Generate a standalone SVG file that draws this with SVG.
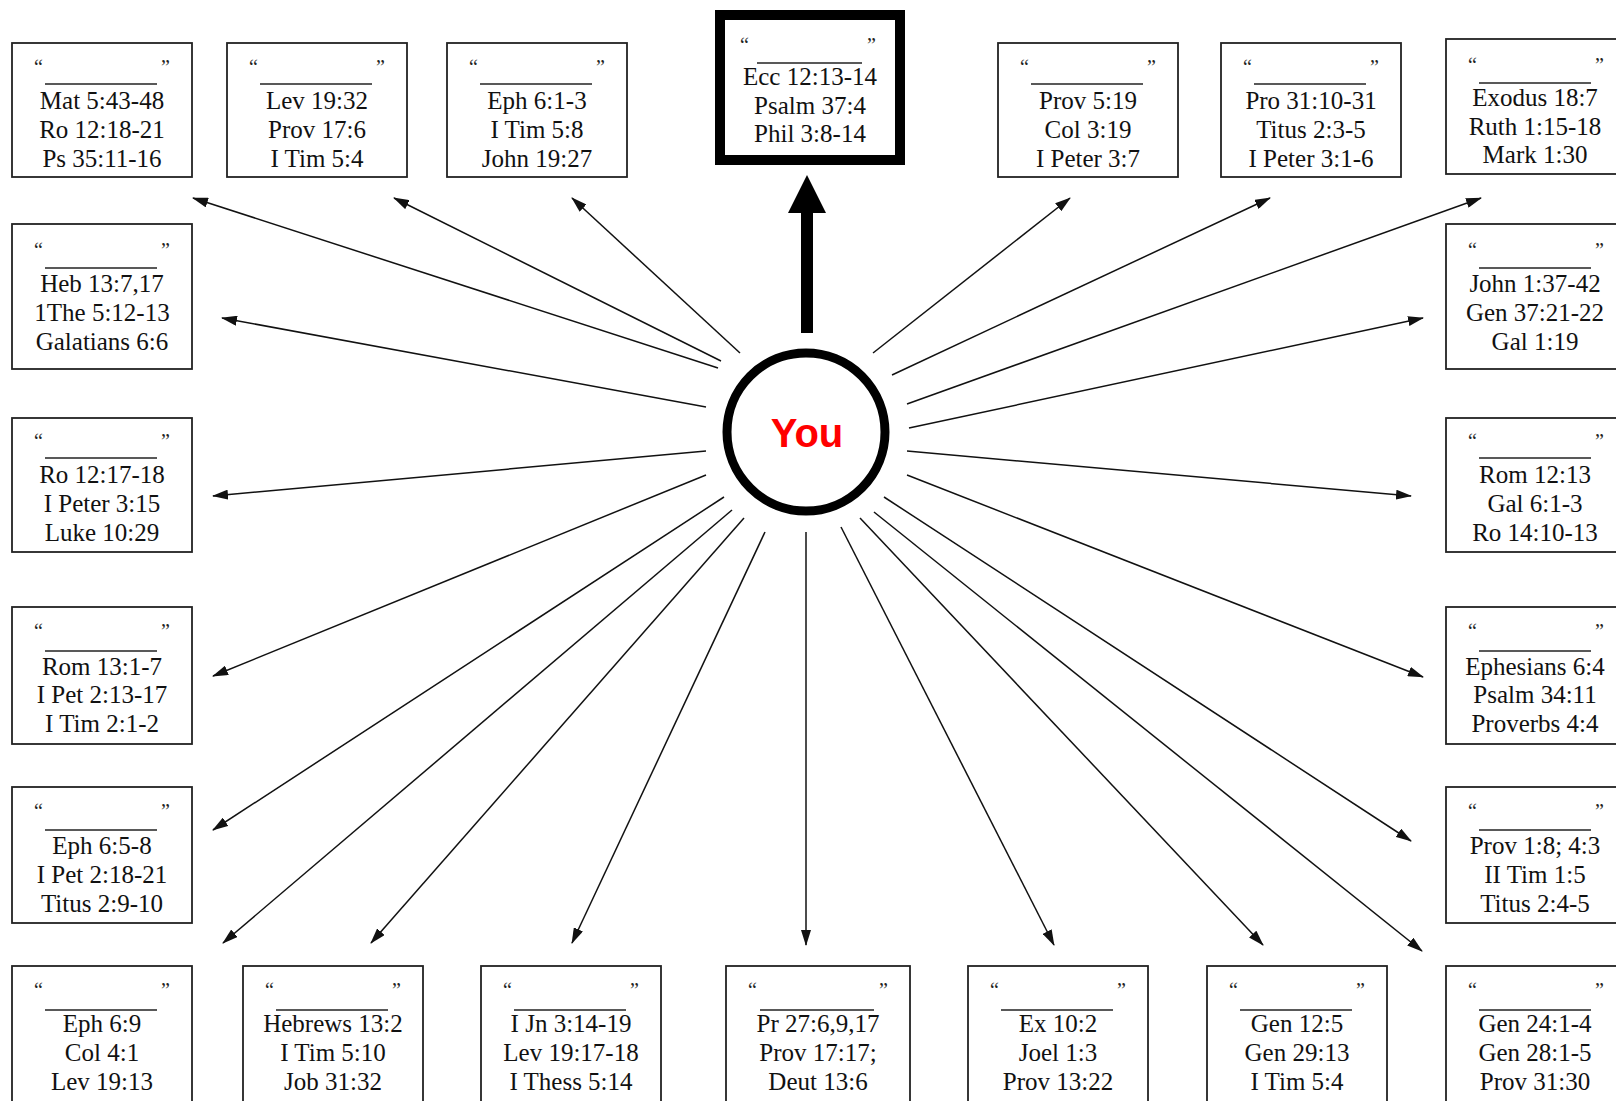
<svg xmlns="http://www.w3.org/2000/svg" width="1616" height="1101" viewBox="0 0 1616 1101">
<style>
.bx{fill:#fff;stroke:#222;stroke-width:1.8}
.bxc{fill:#fff;stroke:#000;stroke-width:10}
.t{font-family:"Liberation Serif","Times New Roman",serif;font-size:25px;fill:#111;text-anchor:middle}
.q{font-family:"Liberation Serif","Times New Roman",serif;font-size:20px;fill:#222}
.ul{stroke:#222;stroke-width:1.6}
.ar{stroke:#111;stroke-width:1.5;fill:none;marker-end:url(#ah)}
.you{font-family:"Liberation Sans",Arial,sans-serif;font-weight:bold;font-size:40px;fill:#ff0000;text-anchor:middle}
</style>
<defs>
<marker id="ah" markerUnits="userSpaceOnUse" markerWidth="16" markerHeight="10" refX="15" refY="5" orient="auto"><path d="M0,0 L16,5 L0,10 Z" fill="#111"/></marker>
</defs>
<rect width="1616" height="1101" fill="#fff"/>

<g id="connectors">
<line class="ar" x1="718" y1="368" x2="193" y2="198"/>
<line class="ar" x1="721" y1="361" x2="394" y2="198"/>
<line class="ar" x1="740" y1="353" x2="572" y2="198"/>
<line class="ar" x1="706" y1="407" x2="222" y2="318"/>
<line class="ar" x1="706" y1="451" x2="213" y2="496"/>
<line class="ar" x1="706" y1="475" x2="213" y2="676"/>
<line class="ar" x1="724" y1="497" x2="213" y2="830"/>
<line class="ar" x1="732" y1="510" x2="223" y2="943"/>
<line class="ar" x1="744" y1="518" x2="371" y2="943"/>
<line class="ar" x1="765" y1="532" x2="572" y2="943"/>
<line class="ar" x1="806" y1="532" x2="806" y2="945"/>
<line class="ar" x1="841" y1="527" x2="1054" y2="945"/>
<line class="ar" x1="860" y1="518" x2="1263" y2="945"/>
<line class="ar" x1="874" y1="512" x2="1422" y2="951"/>
<line class="ar" x1="884" y1="497" x2="1411" y2="841"/>
<line class="ar" x1="907" y1="475" x2="1423" y2="677"/>
<line class="ar" x1="907" y1="451" x2="1411" y2="496"/>
<line class="ar" x1="909" y1="428" x2="1423" y2="318"/>
<line class="ar" x1="907" y1="404" x2="1481" y2="198"/>
<line class="ar" x1="892" y1="375" x2="1270" y2="198"/>
<line class="ar" x1="873" y1="353" x2="1070" y2="198"/>
<line x1="807" y1="333" x2="807" y2="210" stroke="#000" stroke-width="12"/>
<polygon points="807,175 788,213 826,213" fill="#000"/>
</g>

<g id="you">
<circle cx="806" cy="432" r="79" fill="#fff" stroke="#000" stroke-width="9"/>
<text class="you" x="807" y="447">You</text>
</g>

<g id="center-box">
<rect class="bxc" x="720" y="15" width="180" height="145"/>
<text class="q" x="740" y="52">“</text><text class="q" x="876" y="52" text-anchor="end">”</text>
<line class="ul" x1="757" y1="63" x2="862" y2="63"/>
<text class="t" x="810" y="85">Ecc 12:13-14</text>
<text class="t" x="810" y="114">Psalm 37:4</text>
<text class="t" x="810" y="142">Phil 3:8-14</text>
</g>

<g id="n-top1" transform="translate(12,43)">
<rect class="bx" width="180" height="134"/>
<text class="q" x="22" y="31">“</text><text class="q" x="158" y="31" text-anchor="end">”</text>
<line class="ul" x1="33" y1="41" x2="145" y2="41"/>
<text class="t" x="90" y="66">Mat 5:43-48</text><text class="t" x="90" y="95">Ro 12:18-21</text><text class="t" x="90" y="124">Ps 35:11-16</text>
</g>
<g id="n-top2" transform="translate(227,43)">
<rect class="bx" width="180" height="134"/>
<text class="q" x="22" y="31">“</text><text class="q" x="158" y="31" text-anchor="end">”</text>
<line class="ul" x1="33" y1="41" x2="145" y2="41"/>
<text class="t" x="90" y="66">Lev 19:32</text><text class="t" x="90" y="95">Prov 17:6</text><text class="t" x="90" y="124">I Tim 5:4</text>
</g>
<g id="n-top3" transform="translate(447,43)">
<rect class="bx" width="180" height="134"/>
<text class="q" x="22" y="31">“</text><text class="q" x="158" y="31" text-anchor="end">”</text>
<line class="ul" x1="33" y1="41" x2="145" y2="41"/>
<text class="t" x="90" y="66">Eph 6:1-3</text><text class="t" x="90" y="95">I Tim 5:8</text><text class="t" x="90" y="124">John 19:27</text>
</g>
<g id="n-top5" transform="translate(998,43)">
<rect class="bx" width="180" height="134"/>
<text class="q" x="22" y="31">“</text><text class="q" x="158" y="31" text-anchor="end">”</text>
<line class="ul" x1="33" y1="41" x2="145" y2="41"/>
<text class="t" x="90" y="66">Prov 5:19</text><text class="t" x="90" y="95">Col 3:19</text><text class="t" x="90" y="124">I Peter 3:7</text>
</g>
<g id="n-top6" transform="translate(1221,43)">
<rect class="bx" width="180" height="134"/>
<text class="q" x="22" y="31">“</text><text class="q" x="158" y="31" text-anchor="end">”</text>
<line class="ul" x1="33" y1="41" x2="145" y2="41"/>
<text class="t" x="90" y="66">Pro 31:10-31</text><text class="t" x="90" y="95">Titus 2:3-5</text><text class="t" x="90" y="124">I Peter 3:1-6</text>
</g>
<g id="n-top7" transform="translate(1446,39)">
<rect class="bx" width="180" height="135"/>
<text class="q" x="22" y="33">“</text><text class="q" x="158" y="33" text-anchor="end">”</text>
<line class="ul" x1="33" y1="44" x2="145" y2="44"/>
<text class="t" x="89" y="67">Exodus 18:7</text><text class="t" x="89" y="96">Ruth 1:15-18</text><text class="t" x="89" y="124">Mark 1:30</text>
</g>

<g id="n-left1" transform="translate(12,224)">
<rect class="bx" width="180" height="145"/>
<text class="q" x="22" y="33">“</text><text class="q" x="158" y="33" text-anchor="end">”</text>
<line class="ul" x1="33" y1="44" x2="145" y2="44"/>
<text class="t" x="90" y="68">Heb 13:7,17</text><text class="t" x="90" y="97">1The 5:12-13</text><text class="t" x="90" y="126">Galatians 6:6</text>
</g>
<g id="n-left2" transform="translate(12,418)">
<rect class="bx" width="180" height="134"/>
<text class="q" x="22" y="30">“</text><text class="q" x="158" y="30" text-anchor="end">”</text>
<line class="ul" x1="33" y1="40" x2="145" y2="40"/>
<text class="t" x="90" y="65">Ro 12:17-18</text><text class="t" x="90" y="94">I Peter 3:15</text><text class="t" x="90" y="123">Luke 10:29</text>
</g>
<g id="n-left3" transform="translate(12,607)">
<rect class="bx" width="180" height="137"/>
<text class="q" x="22" y="31">“</text><text class="q" x="158" y="31" text-anchor="end">”</text>
<line class="ul" x1="33" y1="44" x2="145" y2="44"/>
<text class="t" x="90" y="68">Rom 13:1-7</text><text class="t" x="90" y="96">I Pet 2:13-17</text><text class="t" x="90" y="125">I Tim 2:1-2</text>
</g>
<g id="n-left4" transform="translate(12,787)">
<rect class="bx" width="180" height="136"/>
<text class="q" x="22" y="31">“</text><text class="q" x="158" y="31" text-anchor="end">”</text>
<line class="ul" x1="33" y1="43" x2="145" y2="43"/>
<text class="t" x="90" y="67">Eph 6:5-8</text><text class="t" x="90" y="96">I Pet 2:18-21</text><text class="t" x="90" y="125">Titus 2:9-10</text>
</g>

<g id="n-right1" transform="translate(1446,224)">
<rect class="bx" width="180" height="145"/>
<text class="q" x="22" y="33">“</text><text class="q" x="158" y="33" text-anchor="end">”</text>
<line class="ul" x1="33" y1="44" x2="145" y2="44"/>
<text class="t" x="89" y="68">John 1:37-42</text><text class="t" x="89" y="97">Gen 37:21-22</text><text class="t" x="89" y="126">Gal 1:19</text>
</g>
<g id="n-right2" transform="translate(1446,418)">
<rect class="bx" width="180" height="134"/>
<text class="q" x="22" y="30">“</text><text class="q" x="158" y="30" text-anchor="end">”</text>
<line class="ul" x1="33" y1="40" x2="145" y2="40"/>
<text class="t" x="89" y="65">Rom 12:13</text><text class="t" x="89" y="94">Gal 6:1-3</text><text class="t" x="89" y="123">Ro 14:10-13</text>
</g>
<g id="n-right3" transform="translate(1446,607)">
<rect class="bx" width="180" height="137"/>
<text class="q" x="22" y="31">“</text><text class="q" x="158" y="31" text-anchor="end">”</text>
<line class="ul" x1="33" y1="44" x2="145" y2="44"/>
<text class="t" x="89" y="68">Ephesians 6:4</text><text class="t" x="89" y="96">Psalm 34:11</text><text class="t" x="89" y="125">Proverbs 4:4</text>
</g>
<g id="n-right4" transform="translate(1446,787)">
<rect class="bx" width="180" height="136"/>
<text class="q" x="22" y="31">“</text><text class="q" x="158" y="31" text-anchor="end">”</text>
<line class="ul" x1="33" y1="43" x2="145" y2="43"/>
<text class="t" x="89" y="67">Prov 1:8; 4:3</text><text class="t" x="89" y="96">II Tim 1:5</text><text class="t" x="89" y="125">Titus 2:4-5</text>
</g>

<g id="n-bot1" transform="translate(12,966)">
<rect class="bx" width="180" height="150"/>
<text class="q" x="22" y="31">“</text><text class="q" x="158" y="31" text-anchor="end">”</text>
<line class="ul" x1="33" y1="44" x2="145" y2="44"/>
<text class="t" x="90" y="66">Eph 6:9</text><text class="t" x="90" y="95">Col 4:1</text><text class="t" x="90" y="124">Lev 19:13</text>
</g>
<g id="n-bot2" transform="translate(243,966)">
<rect class="bx" width="180" height="150"/>
<text class="q" x="22" y="31">“</text><text class="q" x="158" y="31" text-anchor="end">”</text>
<line class="ul" x1="33" y1="44" x2="145" y2="44"/>
<text class="t" x="90" y="66">Hebrews 13:2</text><text class="t" x="90" y="95">I Tim 5:10</text><text class="t" x="90" y="124">Job 31:32</text>
</g>
<g id="n-bot3" transform="translate(481,966)">
<rect class="bx" width="180" height="150"/>
<text class="q" x="22" y="31">“</text><text class="q" x="158" y="31" text-anchor="end">”</text>
<line class="ul" x1="33" y1="44" x2="145" y2="44"/>
<text class="t" x="90" y="66">I Jn 3:14-19</text><text class="t" x="90" y="95">Lev 19:17-18</text><text class="t" x="90" y="124">I Thess 5:14</text>
</g>
<g id="n-bot4" transform="translate(726,966)">
<rect class="bx" width="184" height="150"/>
<text class="q" x="22" y="31">“</text><text class="q" x="162" y="31" text-anchor="end">”</text>
<line class="ul" x1="34" y1="44" x2="148" y2="44"/>
<text class="t" x="92" y="66">Pr 27:6,9,17</text><text class="t" x="92" y="95">Prov 17:17;</text><text class="t" x="92" y="124">Deut 13:6</text>
</g>
<g id="n-bot5" transform="translate(968,966)">
<rect class="bx" width="180" height="150"/>
<text class="q" x="22" y="31">“</text><text class="q" x="158" y="31" text-anchor="end">”</text>
<line class="ul" x1="33" y1="44" x2="145" y2="44"/>
<text class="t" x="90" y="66">Ex 10:2</text><text class="t" x="90" y="95">Joel 1:3</text><text class="t" x="90" y="124">Prov 13:22</text>
</g>
<g id="n-bot6" transform="translate(1207,966)">
<rect class="bx" width="180" height="150"/>
<text class="q" x="22" y="31">“</text><text class="q" x="158" y="31" text-anchor="end">”</text>
<line class="ul" x1="33" y1="44" x2="145" y2="44"/>
<text class="t" x="90" y="66">Gen 12:5</text><text class="t" x="90" y="95">Gen 29:13</text><text class="t" x="90" y="124">I Tim 5:4</text>
</g>
<g id="n-bot7" transform="translate(1446,966)">
<rect class="bx" width="180" height="150"/>
<text class="q" x="22" y="31">“</text><text class="q" x="158" y="31" text-anchor="end">”</text>
<line class="ul" x1="33" y1="44" x2="145" y2="44"/>
<text class="t" x="89" y="66">Gen 24:1-4</text><text class="t" x="89" y="95">Gen 28:1-5</text><text class="t" x="89" y="124">Prov 31:30</text>
</g>
</svg>
